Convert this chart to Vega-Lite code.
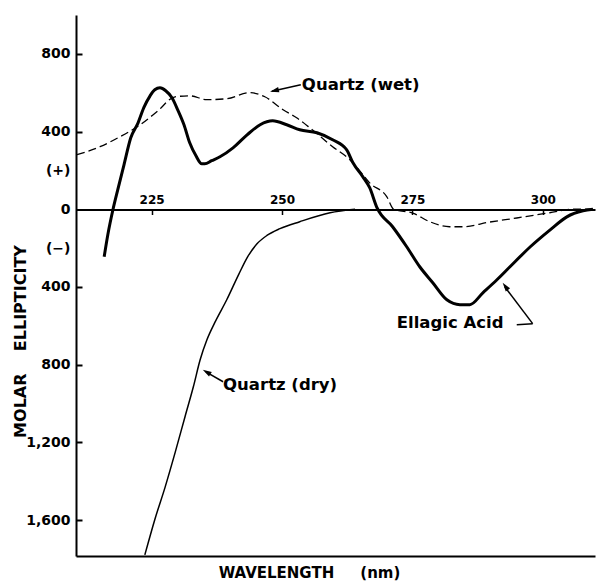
{
  "$schema": "https://vega.github.io/schema/vega-lite/v6.json",
  "width": 519,
  "height": 541,
  "autosize": "none",
  "padding": {"left": 76, "top": 15, "right": 2, "bottom": 26},
  "background": "white",
  "config": {"view": {"stroke": null}},
  "datasets": {
    "curves": [
      {"series": "Ellagic Acid", "wl": 215.9, "val": -245},
      {"series": "Ellagic Acid", "wl": 216.6, "val": -131},
      {"series": "Ellagic Acid", "wl": 217.6, "val": 0},
      {"series": "Ellagic Acid", "wl": 218.5, "val": 100},
      {"series": "Ellagic Acid", "wl": 219.7, "val": 229},
      {"series": "Ellagic Acid", "wl": 221.0, "val": 368},
      {"series": "Ellagic Acid", "wl": 222.4, "val": 445},
      {"series": "Ellagic Acid", "wl": 223.5, "val": 523},
      {"series": "Ellagic Acid", "wl": 224.7, "val": 584},
      {"series": "Ellagic Acid", "wl": 225.6, "val": 615},
      {"series": "Ellagic Acid", "wl": 226.6, "val": 625},
      {"series": "Ellagic Acid", "wl": 227.7, "val": 610},
      {"series": "Ellagic Acid", "wl": 228.9, "val": 574},
      {"series": "Ellagic Acid", "wl": 230.0, "val": 512},
      {"series": "Ellagic Acid", "wl": 231.2, "val": 435},
      {"series": "Ellagic Acid", "wl": 232.3, "val": 342},
      {"series": "Ellagic Acid", "wl": 233.5, "val": 275},
      {"series": "Ellagic Acid", "wl": 234.6, "val": 234},
      {"series": "Ellagic Acid", "wl": 235.2, "val": 234},
      {"series": "Ellagic Acid", "wl": 236.5, "val": 250},
      {"series": "Ellagic Acid", "wl": 238.1, "val": 270},
      {"series": "Ellagic Acid", "wl": 240.6, "val": 316},
      {"series": "Ellagic Acid", "wl": 243.3, "val": 383},
      {"series": "Ellagic Acid", "wl": 245.8, "val": 435},
      {"series": "Ellagic Acid", "wl": 248.2, "val": 455},
      {"series": "Ellagic Acid", "wl": 250.9, "val": 435},
      {"series": "Ellagic Acid", "wl": 253.4, "val": 409},
      {"series": "Ellagic Acid", "wl": 256.7, "val": 394},
      {"series": "Ellagic Acid", "wl": 259.7, "val": 358},
      {"series": "Ellagic Acid", "wl": 262.4, "val": 306},
      {"series": "Ellagic Acid", "wl": 263.6, "val": 239},
      {"series": "Ellagic Acid", "wl": 265.5, "val": 167},
      {"series": "Ellagic Acid", "wl": 266.8, "val": 111},
      {"series": "Ellagic Acid", "wl": 268.2, "val": 8},
      {"series": "Ellagic Acid", "wl": 271.2, "val": -90},
      {"series": "Ellagic Acid", "wl": 273.9, "val": -193},
      {"series": "Ellagic Acid", "wl": 276.4, "val": -296},
      {"series": "Ellagic Acid", "wl": 278.9, "val": -378},
      {"series": "Ellagic Acid", "wl": 281.6, "val": -466},
      {"series": "Ellagic Acid", "wl": 284.1, "val": -491},
      {"series": "Ellagic Acid", "wl": 286.0, "val": -491},
      {"series": "Ellagic Acid", "wl": 288.5, "val": -430},
      {"series": "Ellagic Acid", "wl": 291.2, "val": -363},
      {"series": "Ellagic Acid", "wl": 293.7, "val": -296},
      {"series": "Ellagic Acid", "wl": 297.6, "val": -193},
      {"series": "Ellagic Acid", "wl": 301.4, "val": -106},
      {"series": "Ellagic Acid", "wl": 304.6, "val": -39},
      {"series": "Ellagic Acid", "wl": 307.7, "val": -8},
      {"series": "Ellagic Acid", "wl": 309.6, "val": 0},
      {"series": "Quartz (wet)", "wl": 210.7, "val": 281},
      {"series": "Quartz (wet)", "wl": 215.1, "val": 322},
      {"series": "Quartz (wet)", "wl": 218.9, "val": 373},
      {"series": "Quartz (wet)", "wl": 222.8, "val": 435},
      {"series": "Quartz (wet)", "wl": 226.0, "val": 502},
      {"series": "Quartz (wet)", "wl": 229.5, "val": 579},
      {"series": "Quartz (wet)", "wl": 232.3, "val": 584},
      {"series": "Quartz (wet)", "wl": 235.6, "val": 564},
      {"series": "Quartz (wet)", "wl": 239.4, "val": 569},
      {"series": "Quartz (wet)", "wl": 243.8, "val": 600},
      {"series": "Quartz (wet)", "wl": 246.7, "val": 579},
      {"series": "Quartz (wet)", "wl": 250.2, "val": 512},
      {"series": "Quartz (wet)", "wl": 252.8, "val": 471},
      {"series": "Quartz (wet)", "wl": 255.3, "val": 420},
      {"series": "Quartz (wet)", "wl": 259.7, "val": 322},
      {"series": "Quartz (wet)", "wl": 263.0, "val": 255},
      {"series": "Quartz (wet)", "wl": 265.5, "val": 178},
      {"series": "Quartz (wet)", "wl": 266.8, "val": 136},
      {"series": "Quartz (wet)", "wl": 270.1, "val": 64},
      {"series": "Quartz (wet)", "wl": 271.4, "val": 0},
      {"series": "Quartz (wet)", "wl": 275.1, "val": -20},
      {"series": "Quartz (wet)", "wl": 278.3, "val": -64},
      {"series": "Quartz (wet)", "wl": 282.1, "val": -90},
      {"series": "Quartz (wet)", "wl": 284.6, "val": -90},
      {"series": "Quartz (wet)", "wl": 289.8, "val": -66},
      {"series": "Quartz (wet)", "wl": 295.0, "val": -45},
      {"series": "Quartz (wet)", "wl": 301.3, "val": -18},
      {"series": "Quartz (wet)", "wl": 305.7, "val": 0},
      {"series": "Quartz (wet)", "wl": 309.6, "val": 0},
      {"series": "Quartz (dry)", "wl": 223.7, "val": -1779},
      {"series": "Quartz (dry)", "wl": 225.6, "val": -1598},
      {"series": "Quartz (dry)", "wl": 227.6, "val": -1429},
      {"series": "Quartz (dry)", "wl": 229.5, "val": -1253},
      {"series": "Quartz (dry)", "wl": 231.4, "val": -1068},
      {"series": "Quartz (dry)", "wl": 233.0, "val": -914},
      {"series": "Quartz (dry)", "wl": 234.3, "val": -775},
      {"series": "Quartz (dry)", "wl": 235.6, "val": -672},
      {"series": "Quartz (dry)", "wl": 237.1, "val": -584},
      {"series": "Quartz (dry)", "wl": 239.4, "val": -466},
      {"series": "Quartz (dry)", "wl": 241.7, "val": -335},
      {"series": "Quartz (dry)", "wl": 243.4, "val": -245},
      {"series": "Quartz (dry)", "wl": 245.2, "val": -178},
      {"series": "Quartz (dry)", "wl": 247.1, "val": -135},
      {"series": "Quartz (dry)", "wl": 249.6, "val": -100},
      {"series": "Quartz (dry)", "wl": 253.4, "val": -64},
      {"series": "Quartz (dry)", "wl": 259.2, "val": -18},
      {"series": "Quartz (dry)", "wl": 264.0, "val": 0}
    ],
    "notes": [
      {"label": "Ellagic Acid", "wl": 272.0, "val": -584},
      {"label": "Quartz (dry)", "wl": 238.7, "val": -903},
      {"label": "Quartz (wet)", "wl": 253.8, "val": 641}
    ],
    "arrows": [
      {"label": "Quartz (wet)", "wl": 253.6, "val": 641, "wl2": 248.05, "val2": 607},
      {"label": "Quartz (dry)", "wl": 238.7, "val": -888, "wl2": 235.4, "val2": -837},
      {"label": "Ellagic Acid", "wl": 295.0, "val": -594, "wl2": 298.05, "val2": -589},
      {"label": "Ellagic Acid", "wl": 298.05, "val": -589, "wl2": 292.7, "val2": -399}
    ],
    "heads": [
      {"label": "Quartz (wet)", "wl": 247.7, "val": 605},
      {"label": "Quartz (dry)", "wl": 234.8, "val": -826},
      {"label": "Ellagic Acid", "wl": 292.3, "val": -378}
    ]
  },
  "encoding": {
    "x": {"field": "wl", "type": "quantitative", "scale": {"domain": [210.5, 310], "nice": false, "zero": false}, "axis": null},
    "y": {
      "field": "val", "type": "quantitative",
      "scale": {"domain": [-1785, 1000], "nice": false, "zero": false},
      "axis": {
        "values": [800, 400, 200, 0, -200, -400, -800, -1200, -1600],
        "labelExpr": "datum.value == 200 ? '(+)' : datum.value == -200 ? '(−)' : format(abs(datum.value), ',')",
        "tickColor": {"condition": {"test": "abs(datum.value) == 200 || datum.value == 0", "value": "transparent"}, "value": "black"},
        "tickSize": -6, "tickWidth": 2,
        "domainColor": "black", "domainWidth": 2, "grid": false,
        "labelFont": "DejaVu Sans", "labelFontWeight": "bold", "labelFontSize": 14, "labelColor": "black", "labelPadding": 12,
        "title": "MOLAR\u00a0\u00a0\u00a0\u00a0ELLIPTICITY",
        "titleFont": "DejaVu Sans", "titleFontWeight": "bold", "titleFontSize": 16, "titleColor": "black",
        "titleX": -56, "titleY": 326, "titleAngle": -90, "titleAlign": "center", "titleBaseline": "middle"
      }
    }
  },
  "layer": [
    {
      "data": {"name": "curves"},
      "transform": [{"filter": "datum.series == 'Ellagic Acid'"}],
      "mark": {"type": "line", "color": "black", "strokeWidth": 3, "interpolate": "monotone"},
      "encoding": {
        "x": {"field": "wl", "type": "quantitative", "axis": {
          "orient": "bottom", "labels": false, "ticks": false, "grid": false,
          "domainColor": "black", "domainWidth": 2,
          "title": "WAVELENGTH\u00a0\u00a0\u00a0\u00a0\u00a0(nm)", "titleFont": "DejaVu Sans", "titleFontWeight": "bold", "titleFontSize": 15, "titleColor": "black",
          "titleX": 233, "titleY": 16, "titleAlign": "center", "titleBaseline": "middle"
        }}
      }
    },
    {
      "data": {"name": "curves"},
      "transform": [{"filter": "datum.series == 'Quartz (wet)'"}],
      "mark": {"type": "line", "color": "black", "strokeWidth": 1.3, "strokeDash": [8, 4], "interpolate": "monotone"},
      "encoding": {
        "x": {"field": "wl", "type": "quantitative", "axis": {
          "orient": "top", "offset": -194.5, "values": [225, 250, 275, 300], "grid": false,
          "domainColor": "black", "domainWidth": 2, "tickColor": "black", "tickSize": -5, "tickWidth": 1.5,
          "labelFont": "DejaVu Sans", "labelFontWeight": "bold", "labelFontSize": 12, "labelColor": "black", "labelPadding": 8,
          "title": null
        }}
      }
    },
    {
      "data": {"name": "curves"},
      "transform": [{"filter": "datum.series == 'Quartz (dry)'"}],
      "mark": {"type": "line", "color": "black", "strokeWidth": 1.5, "interpolate": "monotone"}
    },
    {
      "data": {"name": "notes"},
      "mark": {"type": "text", "align": "left", "baseline": "middle", "font": "DejaVu Sans", "fontWeight": "bold", "fontSize": 16.5, "color": "black"},
      "encoding": {"text": {"field": "label"}}
    },
    {
      "data": {"name": "arrows"},
      "mark": {"type": "rule", "color": "black", "strokeWidth": 1.5},
      "encoding": {"x2": {"field": "wl2"}, "y2": {"field": "val2"}}
    },
    {
      "data": {"name": "heads"},
      "transform": [{"filter": "datum.label == 'Quartz (wet)'"}],
      "mark": {"type": "point", "filled": true, "color": "black", "opacity": 1, "shape": "M0,0L-0.6,2L0.6,2Z", "size": 80, "angle": 257}
    },
    {
      "data": {"name": "heads"},
      "transform": [{"filter": "datum.label == 'Quartz (dry)'"}],
      "mark": {"type": "point", "filled": true, "color": "black", "opacity": 1, "shape": "M0,0L-0.6,2L0.6,2Z", "size": 80, "angle": 301}
    },
    {
      "data": {"name": "heads"},
      "transform": [{"filter": "datum.label == 'Ellagic Acid'"}],
      "mark": {"type": "point", "filled": true, "color": "black", "opacity": 1, "shape": "M0,0L-0.6,2L0.6,2Z", "size": 80, "angle": 324}
    }
  ],
  "resolve": {"axis": {"x": "independent"}}
}
